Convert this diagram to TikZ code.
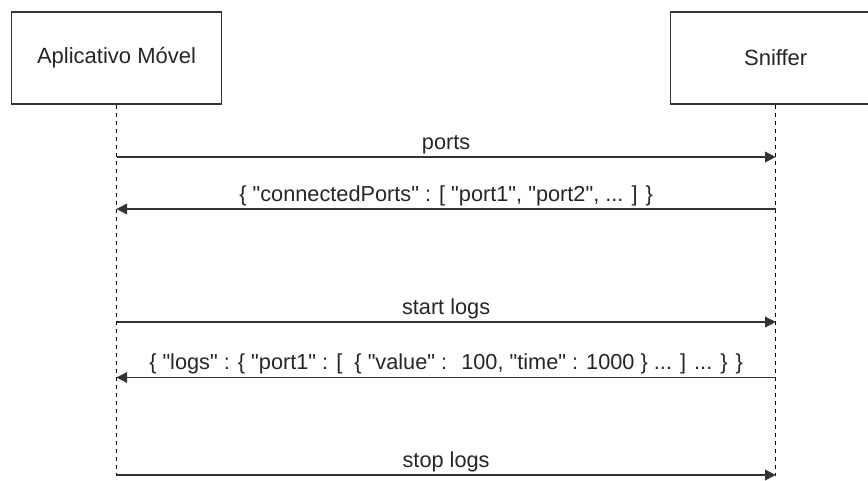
\documentclass[tikz,border=0pt]{standalone}
\usepackage{fontspec}
\setmainfont{Liberation Sans}[Ligatures=TeXOff]
\usetikzlibrary{arrows.meta}
\begin{document}
\begin{tikzpicture}[x=0.75pt,y=-0.75pt,
  actor/.style={draw=black!80,line width=1pt,minimum width=210*0.75pt,minimum height=92*0.75pt,inner sep=0pt,font=\fontsize{16.5}{20}\selectfont,text=black!85},
  life/.style={draw=black,line width=0.9pt,dash pattern=on 3.5pt off 2.5pt},
  msg/.style={draw=black!80,line width=1pt,-{Triangle[length=8pt,width=8pt]}},
  lbl/.style={font=\fontsize{16.3}{19}\selectfont,text=black!85,above=2pt,inner sep=0pt}]
\useasboundingbox (0,0) rectangle (868,481);
\fill[white] (0,0) rectangle (868,481);
\clip (0,0) rectangle (868,481);
\node[actor] (app) at (116.5,58) {Aplicativo Móvel};
\node[actor] (snf) at (775.7,58) {Sniffer};
\coordinate (append) at (116.5,476);
\coordinate (snfend) at (775.7,476);
\draw[life] (app.south) -- (append);
\draw[life] (snf.south) -- (snfend);
\coordinate (a1) at (116.5,157); \coordinate (s1) at (775.7,157);
\coordinate (a2) at (116.5,209); \coordinate (s2) at (775.7,209);
\coordinate (a3) at (116.5,322); \coordinate (s3) at (775.7,322);
\coordinate (a4) at (116.5,377.5); \coordinate (s4) at (775.7,377.5);
\coordinate (a5) at (116.5,475); \coordinate (s5) at (775.7,475);
\draw[msg] (a1) -- node[lbl] {ports} (s1);
\draw[msg] (s2) -- node[lbl] {\{ "connectedPorts" : [ "port1", "port2", ... ] \}} (a2);
\draw[msg] (a3) -- node[lbl] {start logs} (s3);
\draw[msg] (s4) -- node[lbl] {\{ "logs" : \{ "port1" : [ \ \{ "value" : \ 100, "time" : 1000 \} ... ] ... \} \}} (a4);
\draw[msg] (a5) -- node[lbl] {stop logs} (s5);
\end{tikzpicture}
\end{document}
